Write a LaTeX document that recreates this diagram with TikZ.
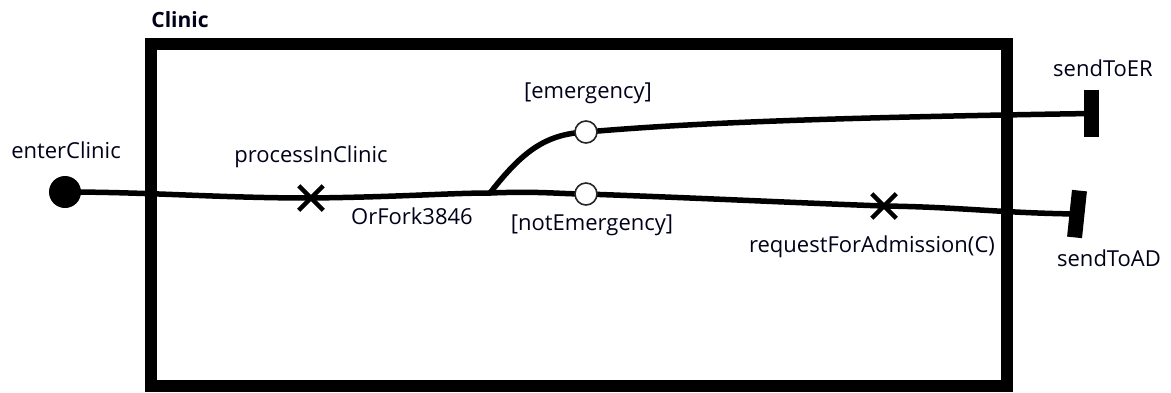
\documentclass[tikz,border=0pt]{standalone}
\usepackage{fontspec}
\setmainfont{Open Sans}
\usetikzlibrary{shapes.misc}
\pgfdeclarelayer{background}
\pgfsetlayers{background,main}
\begin{document}
\begin{tikzpicture}[x=1pt,y=-1pt,
  lbl/.style={font=\fontsize{22}{26}\selectfont, anchor=base, inner sep=0pt, text=black!90!blue},
  flow/.style={line width=5.5pt, line cap=round, line join=round},
  xmark/.style={cross out, draw, minimum size=20pt, inner sep=0pt, line width=4.5pt},
  guard/.style={circle, draw=black!85, fill=white, line width=1.6pt, minimum size=22pt, inner sep=0pt},
  endbar/.style={rectangle, fill=black, minimum width=15pt, minimum height=47pt, inner sep=0pt},
  startdot/.style={circle, fill=black, minimum size=32pt, inner sep=0pt}
]
\useasboundingbox (0,0) rectangle (1171,392);
% container
\node[draw, line width=12pt, minimum width=856pt, minimum height=342pt, inner sep=0pt] (clinic) at (579,215) {};
\node[lbl, font=\fontsize{21}{25}\selectfont\bfseries] (clinicL) at (180,27) {Clinic};
% elements
\node[startdot] (start) at (65,192) {};
\node[xmark] (p1) at (311,198) {};
\coordinate (fork) at (490,193);
\node[guard] (em) at (586,132) {};
\node[guard] (nem) at (586,194) {};
\node[xmark] (p2) at (884,206) {};
\node[endbar] (er) at (1091,113.5) {};
\node[endbar, rotate=-6] (ad) at (1077,214) {};
% labels
\node[lbl] (startL) at (66,158) {enterClinic};
\node[lbl] (p1L) at (311,162) {processInClinic};
\node[lbl] (forkL) at (412,224) {OrFork3846};
\node[lbl] (emL) at (588,98) {[emergency]};
\node[lbl] (nemL) at (592,230) {[notEmergency]};
\node[lbl] (p2L) at (872,252) {requestForAdmission(C)};
\node[lbl] (erL) at (1103,76) {sendToER};
\node[lbl] (adL) at (1109,266) {sendToAD};
% connectors
\begin{pgfonlayer}{background}
\draw[flow] (start.center) .. controls (150,192) and (220,198) .. (p1.center);
\draw[flow] (p1.center) .. controls (400,197) and (450,193) .. (fork);
\draw[flow] (fork) .. controls (522,152) and (545,134) .. (em.center);
\draw[flow] (em.center) .. controls (680,124) and (800,118) .. (er.center);
\draw[flow] (fork) .. controls (540,191) and (560,194) .. (nem.center);
\draw[flow] (nem.center) .. controls (700,198) and (800,203) .. (p2.center);
\draw[flow] (p2.center) .. controls (960,207) and (1000,213) .. (ad.center);
\end{pgfonlayer}
\end{tikzpicture}
\end{document}
